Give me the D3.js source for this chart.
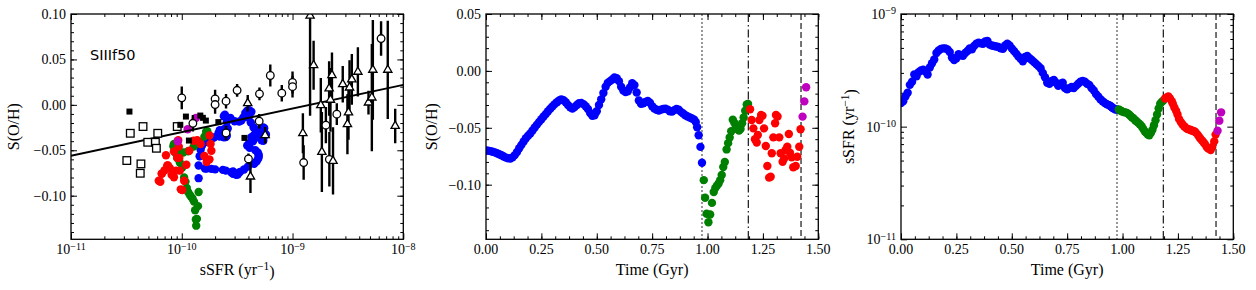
<!DOCTYPE html>
<html>
<head>
<meta charset="utf-8">
<script src="https://cdn.jsdelivr.net/npm/d3@7"></script>
<style>
  body { margin: 0; background: #fff; }
  svg, svg text { font-family: "Liberation Serif", "DejaVu Serif", serif; fill: #000; }
</style>
</head>
<body>
<script>
// Simulation track: [time (Gyr), S(O/H), sSFR (1e-10 /yr)]
var blueTrack = [
  [0.00,-0.0700,1.62],[0.01,-0.0702,1.68],[0.02,-0.0705,1.85],[0.03,-0.0710,2.00],[0.04,-0.0716,2.35],
  [0.05,-0.0724,2.50],[0.06,-0.0733,2.90],[0.07,-0.0742,2.80],[0.08,-0.0752,3.05],[0.09,-0.0762,3.15],
  [0.10,-0.0768,3.20],[0.11,-0.0770,3.10],[0.12,-0.0760,2.90],[0.13,-0.0740,3.35],[0.14,-0.0712,3.65],
  [0.15,-0.0680,3.95],[0.16,-0.0650,4.50],[0.17,-0.0620,4.75],[0.18,-0.0592,4.90],[0.19,-0.0570,4.95],
  [0.20,-0.0550,4.95],[0.21,-0.0524,4.85],[0.22,-0.0498,4.60],[0.23,-0.0472,4.10],[0.24,-0.0448,3.90],
  [0.25,-0.0425,4.05],[0.26,-0.0400,4.40],[0.27,-0.0378,4.30],[0.28,-0.0355,4.25],[0.29,-0.0332,4.50],
  [0.30,-0.0312,4.70],[0.31,-0.0292,4.95],[0.32,-0.0275,4.85],[0.33,-0.0260,5.20],[0.34,-0.0250,5.45],
  [0.35,-0.0258,5.55],[0.36,-0.0275,5.50],[0.37,-0.0300,5.45],[0.38,-0.0320,5.70],[0.39,-0.0330,5.75],
  [0.40,-0.0318,5.35],[0.41,-0.0300,5.25],[0.42,-0.0285,5.20],[0.43,-0.0282,5.15],[0.44,-0.0292,5.10],
  [0.45,-0.0310,4.95],[0.46,-0.0335,4.90],[0.47,-0.0370,5.25],[0.48,-0.0395,5.45],[0.49,-0.0390,5.25],
  [0.50,-0.0355,4.95],[0.51,-0.0300,4.70],[0.52,-0.0250,4.45],[0.53,-0.0195,4.20],[0.54,-0.0140,4.00],
  [0.55,-0.0105,3.80],[0.56,-0.0090,4.15],[0.57,-0.0075,4.25],[0.58,-0.0058,4.05],[0.59,-0.0065,3.90],
  [0.60,-0.0090,3.75],[0.61,-0.0140,3.60],[0.62,-0.0172,3.45],[0.63,-0.0185,3.30],[0.64,-0.0180,3.00],
  [0.65,-0.0145,2.75],[0.66,-0.0108,2.45],[0.67,-0.0125,2.40],[0.68,-0.0190,2.55],[0.69,-0.0260,2.60],
  [0.70,-0.0290,2.45],[0.71,-0.0285,2.30],[0.72,-0.0272,2.40],[0.73,-0.0265,2.45],[0.74,-0.0280,2.20],
  [0.75,-0.0310,2.15],[0.76,-0.0330,2.20],[0.77,-0.0342,2.25],[0.78,-0.0348,2.20],[0.79,-0.0340,2.30],
  [0.80,-0.0335,2.40],[0.81,-0.0332,2.50],[0.82,-0.0340,2.55],[0.83,-0.0355,2.50],[0.84,-0.0358,2.40],
  [0.85,-0.0345,2.35],[0.86,-0.0335,2.20],[0.87,-0.0342,2.10],[0.88,-0.0360,1.95],[0.89,-0.0375,1.85],
  [0.90,-0.0390,1.75],[0.91,-0.0400,1.68],[0.92,-0.0410,1.62],[0.93,-0.0418,1.58],[0.94,-0.0428,1.55],
  [0.947,-0.0450,1.52],[0.953,-0.0495,1.48],[0.960,-0.0565,1.45],[0.968,-0.0668,1.42],[0.975,-0.0807,1.42]
];
var greenTrack = [
  [0.983,-0.0960,1.42],[0.989,-0.1115,1.40],[0.996,-0.1255,1.37],[1.004,-0.1330,1.35],[1.012,-0.1262,1.34],
  [1.020,-0.1160,1.32],[1.028,-0.1065,1.29],[1.035,-0.1030,1.25],[1.042,-0.1010,1.21],[1.050,-0.0990,1.18],
  [1.057,-0.0960,1.14],[1.064,-0.0915,1.11],[1.071,-0.0845,1.08],[1.078,-0.0800,1.05],[1.086,-0.0690,1.01],
  [1.093,-0.0635,0.96],[1.100,-0.0585,0.91],[1.107,-0.0530,0.88],[1.114,-0.0430,0.85],[1.121,-0.0455,0.84],
  [1.128,-0.0490,0.88],[1.135,-0.0510,0.94],[1.142,-0.0525,1.03],[1.149,-0.0510,1.14],[1.156,-0.0460,1.28],
  [1.163,-0.0410,1.45],[1.170,-0.0350,1.60],[1.177,-0.0295,1.66],[1.183,-0.0290,1.70]
];
var redTrack = [
  [1.192,-0.0337,1.78],[1.199,-0.0431,1.82],[1.207,-0.0505,1.85],[1.214,-0.0600,1.78],[1.222,-0.0630,1.68],
  [1.227,-0.0563,1.60],[1.234,-0.0431,1.48],[1.242,-0.0388,1.38],[1.248,-0.0395,1.28],[1.255,-0.0505,1.17],
  [1.263,-0.0660,1.10],[1.270,-0.0836,1.05],[1.278,-0.0938,1.01],[1.285,-0.0930,0.98],[1.290,-0.0724,0.96],
  [1.297,-0.0584,0.95],[1.305,-0.0460,0.94],[1.309,-0.0388,0.93],[1.316,-0.0400,0.92],[1.324,-0.0584,0.91],
  [1.330,-0.0724,0.89],[1.339,-0.0798,0.85],[1.346,-0.0770,0.81],[1.352,-0.0695,0.78],[1.360,-0.0666,0.75],
  [1.367,-0.0555,0.72],[1.372,-0.0719,0.70],[1.380,-0.0760,0.66],[1.387,-0.0847,0.64],[1.398,-0.0836,0.62],
  [1.405,-0.0754,0.66],[1.414,-0.0666,0.74],[1.420,-0.0513,0.85]
];
var magentaTrack = [[1.429,-0.0402,0.92],[1.437,-0.0268,1.13],[1.445,-0.0144,1.34]];

// Observations: [sSFR, S(O/H)] and [sSFR, S(O/H), error]
var filledSquares = [
  [3.37e-11,-0.0074],[0.97e-10,-0.0220],[1.09e-10,-0.0129],[1.16e-10,-0.0393],[1.47e-10,-0.0118],
  [1.55e-10,-0.0143],[1.65e-10,-0.0173],[2.14e-10,-0.0190],[3.68e-10,-0.0364]
];
var openSquares = [
  [3.19e-11,-0.0613],[3.43e-11,-0.0313],[4.22e-11,-0.0753],[4.28e-11,-0.0650],[4.47e-11,-0.0239],
  [4.93e-11,-0.0412],[5.78e-11,-0.0412],[5.90e-11,-0.0478],[6.07e-11,-0.0313],[0.91e-10,-0.0239]
];
var openCircles = [
  [1.00e-10,0.0077,0.0125],[1.26e-10,-0.0203,0.009],[2.00e-10,0.0066,0.010],[2.00e-10,0.0003,0.010],
  [2.51e-10,0.0040,0.008],[2.51e-10,-0.0310,0.008],[3.16e-10,0.0160,0.007],[4.00e-10,-0.0595,0.006],
  [5.03e-10,0.0121,0.007],[5.00e-10,-0.0180,0.008],[6.30e-10,0.0323,0.012],[8.00e-10,0.0128,0.009],
  [1.00e-9,0.0246,0.012],[1.00e-9,0.0200,0.012],[1.26e-9,-0.0635,0.019],[2.00e-9,-0.0224,0.020],
  [2.15e-9,-0.0600,0.030],[2.51e-9,-0.0103,0.012],[6.30e-9,0.0730,0.019]
];
var openTriangles = [
  [3.94e-10,0.0018,0.009],[4.17e-10,-0.0790,0.018],[5.66e-10,-0.0335,0.009],[1.24e-9,-0.0313,0.022],
  [1.44e-9,0.0980,0.110],[1.55e-9,0.0436,0.027],[1.80e-9,-0.0004,0.030],[1.84e-9,-0.0518,0.044],
  [2.14e-9,0.0180,0.030],[2.20e-9,0.0055,0.035],[2.27e-9,0.0326,0.025],[2.32e-9,-0.0617,0.037],
  [2.84e-9,0.0227,0.020],[3.13e-9,-0.0214,0.033],[3.20e-9,-0.0085,0.030],[3.27e-9,0.0190,0.030],
  [3.43e-9,0.0280,0.028],[3.89e-9,0.0363,0.027],[4.85e-9,0.0025,0.013],[5.20e-9,0.0080,0.059],
  [5.31e-9,0.0385,0.055],[7.24e-9,0.0385,0.054],[8.45e-9,-0.0232,0.019]
];
var fitLine = [[1e-11,-0.056],[1e-8,0.022]];

// Phase boundaries (Gyr)
var phaseEnds = [0.975, 1.184, 1.422];

// Tick values
var sohTicks1 = [-0.10, -0.05, 0.00, 0.05, 0.10];
var sohTicks2 = [-0.10, -0.05, 0.00, 0.05];
var timeTicks = [0, 0.25, 0.5, 0.75, 1.0, 1.25, 1.5];
var ssfrTicksX = [1e-11, 1e-10, 1e-9, 1e-8];
var ssfrTicksY = [1e-11, 1e-10, 1e-9];

// Layout
var width = 1256, height = 290;
var plotTop = 14, plotW = 332.3, plotH = 225.3;
var lefts = [71, 486, 901];
var dotR = 4.2;

var phases = [
  {data: blueTrack, color: '#0000ff'},
  {data: greenTrack, color: '#008000'},
  {data: redTrack, color: '#ff0000'},
  {data: magentaTrack, color: '#bf00bf'}
];

var svg = d3.select("body").append("svg")
    .attr("width", width)
    .attr("height", height)
    .attr("font-family", "'Liberation Serif', 'DejaVu Serif', serif");

function logMinors(lo, hi) {
  var out = [];
  for (var e = lo; e < hi; e++)
    for (var m = 2; m <= 9; m++) out.push(m * Math.pow(10, e));
  return out;
}

function supText(sel, base, sup, after) {
  sel.append("tspan").text(base);
  sel.append("tspan").attr("dy", "-0.45em").attr("font-size", "0.72em").text(sup);
  if (after) sel.append("tspan").attr("dy", "0.45em").text(after);
}

// builds one panel frame, ticks on all four sides pointing in
function makePanel(i, x, y, xMajor, xMinor, yMajor, yMinor) {
  var g = svg.append("g").attr("transform", "translate(" + lefts[i] + "," + plotTop + ")");
  g.append("clipPath").attr("id", "clip" + i)
    .append("rect").attr("width", plotW).attr("height", plotH);

  var ax = [
    [d3.axisBottom(x), "translate(0," + plotH + ")", xMajor, xMinor],
    [d3.axisTop(x), null, xMajor, xMinor],
    [d3.axisLeft(y), null, yMajor, yMinor],
    [d3.axisRight(y), "translate(" + plotW + ",0)", yMajor, yMinor]
  ];
  var ticks = g.append("g").attr("class", "ticks");
  ax.forEach(function(a) {
    [[a[2], 6], [a[3], 3]].forEach(function(set) {
      var t = ticks.append("g")
        .call(a[0].tickValues(set[0]).tickSize(-set[1]).tickFormat(""));
      if (a[1]) t.attr("transform", a[1]);
      t.select(".domain").remove();
      t.selectAll("line").attr("stroke-width", 1);
    });
  });
  var plot = g.append("g").attr("clip-path", "url(#clip" + i + ")");
  return {g: g, plot: plot};
}

function drawFrame(g) {
  g.append("rect").attr("width", plotW).attr("height", plotH)
    .attr("fill", "none").attr("stroke", "#000").attr("stroke-width", 1.3);
}

var fmt = d3.format(".2f");
var expLabel = function(v) { return "\u2212" + Math.round(-Math.log10(v)); };

// ---------- Panel 1: S(O/H) vs sSFR ----------
var x1 = d3.scaleLog().domain([1e-11, 1e-8]).range([0, plotW]);
var y1 = d3.scaleLinear().domain([-0.148, 0.10]).range([plotH, 0]);
var p1 = makePanel(0, x1, y1, ssfrTicksX, logMinors(-11, -8), sohTicks1, d3.range(-0.14, 0.1001, 0.01));

phases.forEach(function(ph) {
  p1.plot.append("g").selectAll("circle")
      .data(ph.data)
    .enter().append("circle")
      .attr("cx", function(d) { return x1(d[2] * 1e-10); })
      .attr("cy", function(d) { return y1(d[1]); })
      .attr("r", dotR)
      .attr("fill", ph.color);
});

p1.plot.append("path")
  .datum(fitLine)
  .attr("d", d3.line().x(function(d) { return x1(d[0]); }).y(function(d) { return y1(d[1]); }))
  .attr("stroke", "#000").attr("stroke-width", 2).attr("fill", "none");

var errData = openCircles.concat(openTriangles);
p1.plot.append("g").selectAll("line")
    .data(errData)
  .enter().append("line")
    .attr("x1", function(d) { return x1(d[0]); })
    .attr("x2", function(d) { return x1(d[0]); })
    .attr("y1", function(d) { return y1(d[1] - d[2]); })
    .attr("y2", function(d) { return y1(d[1] + d[2]); })
    .attr("stroke", "#000").attr("stroke-width", 2.4);

p1.plot.append("g").selectAll("rect")
    .data(openSquares)
  .enter().append("rect")
    .attr("x", function(d) { return x1(d[0]) - 3.8; })
    .attr("y", function(d) { return y1(d[1]) - 3.8; })
    .attr("width", 7.6).attr("height", 7.6)
    .attr("fill", "#fff").attr("stroke", "#000").attr("stroke-width", 1.3);

p1.plot.append("g").selectAll("rect")
    .data(filledSquares)
  .enter().append("rect")
    .attr("x", function(d) { return x1(d[0]) - 3; })
    .attr("y", function(d) { return y1(d[1]) - 3; })
    .attr("width", 6).attr("height", 6)
    .attr("fill", "#000");

p1.plot.append("g").selectAll("circle")
    .data(openCircles)
  .enter().append("circle")
    .attr("cx", function(d) { return x1(d[0]); })
    .attr("cy", function(d) { return y1(d[1]); })
    .attr("r", 3.8)
    .attr("fill", "#fff").attr("stroke", "#000").attr("stroke-width", 1.3);

p1.plot.append("g").selectAll("path")
    .data(openTriangles)
  .enter().append("path")
    .attr("d", d3.symbol().type(d3.symbolTriangle).size(30))
    .attr("transform", function(d) { return "translate(" + x1(d[0]) + "," + y1(d[1]) + ")"; })
    .attr("fill", "#fff").attr("stroke", "#000").attr("stroke-width", 1.3);

drawFrame(p1.g);

p1.g.append("text")
  .attr("x", 19).attr("y", 46)
  .attr("font-family", "'DejaVu Sans', sans-serif")
  .style("font-family", "'DejaVu Sans', sans-serif")
  .style("font-size", "14.5px")
  .text("SIIIf50");

// ---------- Panel 2: S(O/H) vs time ----------
var x2 = d3.scaleLinear().domain([0, 1.5]).range([0, plotW]);
var y2 = d3.scaleLinear().domain([-0.148, 0.05]).range([plotH, 0]);
var p2 = makePanel(1, x2, y2, timeTicks, d3.range(0, 1.5001, 0.0625), sohTicks2, d3.range(-0.14, 0.0501, 0.01));

// ---------- Panel 3: sSFR vs time ----------
var x3 = d3.scaleLinear().domain([0, 1.5]).range([0, plotW]);
var y3 = d3.scaleLog().domain([1e-11, 1e-9]).range([plotH, 0]);
var p3 = makePanel(2, x3, y3, timeTicks, d3.range(0, 1.5001, 0.0625), ssfrTicksY, logMinors(-11, -9));

var lineStyles = [
  {dash: "2,2", color: "#444"},
  {dash: "8,3,1.5,3", color: "#000"},
  {dash: "6,3", color: "#000"}
];

[[p2, x2, function(d) { return y2(d[1]); }], [p3, x3, function(d) { return y3(d[2] * 1e-10); }]].forEach(function(p) {
  p[0].plot.append("g").selectAll("line")
      .data(phaseEnds)
    .enter().append("line")
      .attr("x1", function(d) { return p[1](d); })
      .attr("x2", function(d) { return p[1](d); })
      .attr("y1", 0).attr("y2", plotH)
      .attr("stroke", function(d, i) { return lineStyles[i].color; })
      .attr("stroke-dasharray", function(d, i) { return lineStyles[i].dash; })
      .attr("stroke-width", 1.1);

  phases.forEach(function(ph) {
    p[0].plot.append("g").selectAll("circle")
        .data(ph.data)
      .enter().append("circle")
        .attr("cx", function(d) { return p[1](d[0]); })
        .attr("cy", p[2])
        .attr("r", dotR)
        .attr("fill", ph.color);
  });
  drawFrame(p[0].g);
});

// ---------- Tick labels ----------
function linearYLabels(p, y, vals) {
  p.g.append("g").selectAll("text")
      .data(vals)
    .enter().append("text")
      .attr("x", -5).attr("y", function(d) { return y(d); })
      .attr("dy", "0.35em")
      .attr("text-anchor", "end")
      .style("font-size", "14px")
      .text(function(d) { return fmt(d); });
}
function linearXLabels(p, x, vals) {
  p.g.append("g").selectAll("text")
      .data(vals)
    .enter().append("text")
      .attr("x", function(d) { return x(d); }).attr("y", plotH + 15)
      .attr("text-anchor", "middle")
      .style("font-size", "14px")
      .text(function(d) { return fmt(d); });
}
linearYLabels(p1, y1, sohTicks1);
linearYLabels(p2, y2, sohTicks2);
linearXLabels(p2, x2, timeTicks);
linearXLabels(p3, x3, timeTicks);

p1.g.append("g").selectAll("text")
    .data(ssfrTicksX)
  .enter().append("text")
    .attr("x", function(d) { return x1(d); }).attr("y", plotH + 15)
    .attr("text-anchor", "middle")
    .style("font-size", "14px")
    .each(function(d) { supText(d3.select(this), "10", expLabel(d)); });

p3.g.append("g").selectAll("text")
    .data(ssfrTicksY)
  .enter().append("text")
    .attr("x", -5).attr("y", function(d) { return y3(d) + 5; })
    .attr("text-anchor", "end")
    .style("font-size", "14px")
    .each(function(d) { supText(d3.select(this), "10", expLabel(d)); });

// ---------- Axis titles ----------
function xTitle(p, build) {
  var t = p.g.append("text")
    .attr("x", plotW / 2).attr("y", plotH + 36)
    .attr("text-anchor", "middle")
    .style("font-size", "16px");
  build(t);
}
function yTitle(p, dx, build) {
  var t = p.g.append("text")
    .attr("transform", "translate(" + dx + "," + (plotH / 2) + ") rotate(-90)")
    .attr("text-anchor", "middle")
    .style("font-size", "16px");
  build(t);
}
xTitle(p1, function(t) { supText(t, "sSFR (yr", "\u22121", ")"); });
xTitle(p2, function(t) { t.text("Time (Gyr)"); });
xTitle(p3, function(t) { t.text("Time (Gyr)"); });
yTitle(p1, -52, function(t) { t.text("S(O/H)"); });
yTitle(p2, -49, function(t) { t.text("S(O/H)"); });
yTitle(p3, -47, function(t) { supText(t, "sSFR (yr", "\u22121", ")"); });
</script>
</body>
</html>
